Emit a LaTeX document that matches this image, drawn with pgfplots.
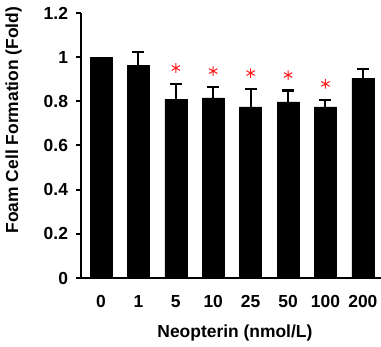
\documentclass[border=0pt]{standalone}
\usepackage{fontspec}
\setmainfont{Liberation Sans}
\usepackage{pgfplots}
\pgfplotsset{compat=1.18}
\begin{document}
\begin{tikzpicture}
\path[use as bounding box] (-81bp,-69bp) rectangle (300bp,278bp);
\begin{axis}[
  at={(0,0)}, anchor=south west,
  scale only axis, width=300bp, height=265bp,
  xmin=-0.535, xmax=7.485, ymin=0, ymax=1.2,
  axis x line=bottom, axis y line=left,
  axis line style={-, line width=2bp},
  x axis line style={line width=2.5bp},
  xtick={0,1,2,3,4,5,6,7}, xticklabels={0,1,5,10,25,50,100,200},
  ytick={0,0.2,0.4,0.6,0.8,1,1.2},
  tick align=outside, major tick length=5bp,
  major x tick style={draw=none},
  y tick style={line width=2bp, black},
  /pgf/number format/assume math mode=true,
  tick label style={font=\bfseries\fontsize{17.5}{17.5}\selectfont},
  yticklabel style={xshift=-4.5bp},
  xticklabel style={yshift=-9bp},
  xlabel={Neopterin (nmol/L)},
  ylabel={Foam Cell Formation (Fold)},
  label style={font=\bfseries\fontsize{17.5}{17.5}\selectfont},
  xlabel style={at={(axis description cs:0.513,-0.223)}, anchor=base},
  ylabel style={at={(axis description cs:-0.225,0.596)}, anchor=center},
  clip=false,
]
\addplot[ybar, bar shift=0pt, bar width=22bp, fill=black, draw=black]
  coordinates {(0,1.0)};
\addplot[ybar, bar shift=0pt, bar width=22bp, fill=black, draw=black,
  error bars/.cd, y dir=plus, y explicit,
  error bar style={line width=2bp, black},
  error mark options={rotate=90, line width=2.5bp, mark size=6bp, black}]
  coordinates {
  (1,0.964) +- (0,0.059)
  (2,0.81) +- (0,0.068)
  (3,0.816) +- (0,0.05)
  (4,0.775) +- (0,0.08)
  (5,0.798) +- (0,0.05)
  (6,0.775) +- (0,0.03)
  (7,0.904) +- (0,0.042)
  };
\addplot[only marks, mark=asterisk, mark size=4.8bp, red!90!white, line width=1bp]
  coordinates {(2,0.951) (3,0.937) (4,0.928) (5,0.919) (6,0.879)};
\end{axis}
\end{tikzpicture}
\end{document}
